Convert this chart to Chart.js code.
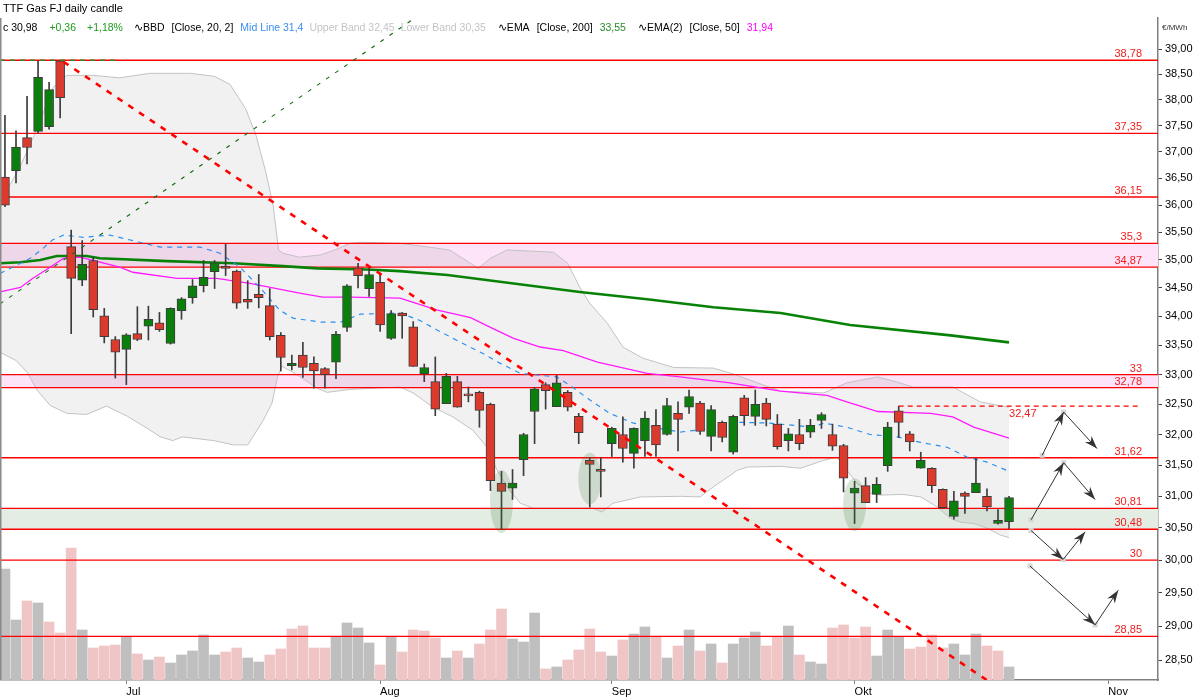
<!DOCTYPE html>
<html>
<head>
<meta charset="utf-8">
<script src="https://cdn.jsdelivr.net/npm/chart.js@4.4.0/dist/chart.umd.min.js"></script>
<style>
  html, body { margin: 0; padding: 0; background: #fff; }
  #wrap { width: 1200px; height: 700px; position: relative; }
</style>
</head>
<body>
<div id="wrap"><canvas id="ttf"></canvas></div>
<script>
// daily candles, 16 Jun - 21 Oct (index = trading day)
const opens = [36.52, 36.64, 37.27, 37.39, 37.48, 38.77, 35.24, 34.64, 34.99, 34.01,
  33.60, 33.43, 33.70, 33.83, 33.89, 33.53, 34.10, 34.33, 34.54, 34.79,
  34.88, 34.80, 34.30, 34.39, 34.19, 33.67, 33.15, 33.33, 33.19, 33.10,
  33.21, 33.81, 34.86, 34.49, 34.60, 33.62, 34.06, 33.82, 33.01, 32.88,
  32.51, 32.88, 32.65, 32.70, 32.50, 31.21, 31.13, 31.59, 32.38, 32.83,
  32.46, 32.70, 32.30, 31.58, 31.41, 31.85, 32.00, 31.69, 31.90, 32.15,
  32.00, 32.35, 32.45, 32.52, 31.97, 32.20, 31.71, 32.61, 32.30, 32.52,
  32.17, 31.90, 32.00, 32.04, 32.23, 32.00, 31.82, 31.05, 31.17, 31.03,
  31.49, 32.39, 32.01, 31.45, 31.45, 31.11, 30.68, 31.05, 31.06, 31.00,
  30.57, 30.60];
const highs = [37.70, 37.40, 38.07, 38.77, 38.34, 38.78, 35.54, 35.35, 35.05, 34.14,
  33.65, 33.70, 34.17, 34.18, 34.07, 34.15, 34.33, 34.65, 34.99, 34.99,
  35.29, 34.82, 34.63, 34.74, 34.49, 33.72, 33.33, 33.55, 33.30, 33.12,
  33.74, 34.56, 34.94, 34.85, 34.74, 34.10, 34.07, 33.91, 33.18, 33.30,
  33.02, 32.97, 32.79, 32.72, 32.52, 31.40, 31.43, 32.02, 32.78, 32.86,
  32.99, 32.73, 32.35, 31.62, 31.62, 32.12, 32.29, 32.11, 32.38, 32.41,
  32.60, 32.54, 32.74, 32.55, 32.48, 32.22, 32.32, 32.65, 32.74, 32.60,
  32.33, 32.10, 32.25, 32.25, 32.36, 32.17, 31.84, 31.24, 31.30, 31.30,
  32.20, 32.47, 32.05, 31.71, 31.46, 31.12, 31.08, 31.07, 31.61, 31.12,
  30.79, 31.00];
const lows = [35.97, 36.41, 36.77, 37.35, 37.43, 37.65, 33.70, 34.54, 33.99, 33.54,
  32.94, 32.83, 33.58, 33.59, 33.74, 33.52, 33.95, 34.23, 34.43, 34.49,
  34.72, 34.14, 34.14, 34.15, 33.59, 33.06, 33.08, 32.95, 32.77, 32.77,
  32.93, 33.74, 34.50, 34.35, 33.74, 33.60, 33.62, 33.14, 32.88, 32.31,
  32.51, 32.45, 32.54, 32.12, 31.09, 30.48, 30.95, 31.33, 31.85, 32.42,
  32.46, 32.39, 31.85, 30.83, 30.99, 31.64, 31.55, 31.45, 31.64, 31.64,
  31.99, 31.73, 32.35, 32.00, 31.73, 31.88, 31.68, 32.15, 32.15, 32.14,
  31.76, 31.73, 31.75, 31.95, 32.10, 31.74, 31.07, 30.57, 30.90, 30.90,
  31.40, 31.95, 31.73, 31.45, 31.06, 30.81, 30.64, 30.73, 31.06, 30.77,
  30.56, 30.49];
const closes = [36.00, 37.09, 37.08, 38.44, 38.20, 38.04, 34.67, 34.92, 34.12, 33.65,
  33.38, 33.68, 33.60, 33.95, 33.77, 34.14, 34.31, 34.54, 34.69, 34.95,
  34.85, 34.23, 34.25, 34.33, 33.65, 33.29, 33.19, 33.12, 33.06, 33.00,
  33.69, 34.54, 34.72, 34.74, 33.85, 34.05, 34.01, 33.14, 33.12, 32.42,
  32.97, 32.45, 32.64, 32.40, 31.25, 31.08, 31.21, 32.00, 32.76, 32.73,
  32.86, 32.45, 32.03, 31.51, 31.40, 32.10, 31.77, 32.10, 32.27, 31.83,
  32.48, 32.25, 32.63, 32.05, 32.41, 31.95, 32.30, 32.31, 32.50, 32.25,
  31.80, 32.01, 31.85, 32.15, 32.33, 31.81, 31.29, 31.13, 30.90, 31.19,
  32.12, 32.20, 31.88, 31.58, 31.17, 30.82, 30.93, 31.00, 31.21, 30.83,
  30.62, 30.98];
const volumes = [111, 60, 79, 77, 58, 47, 132, 50, 32, 34,
  35, 43, 26, 20, 23, 17, 25, 29, 45, 25,
  28, 32, 22, 18, 25, 31, 51, 54, 32, 32,
  43, 57, 52, 37, 15, 43, 28, 50, 49, 42,
  22, 29, 22, 36, 50, 71, 41, 38, 67, 11,
  13, 20, 30, 51, 28, 24, 40, 46, 53, 43,
  22, 34, 50, 29, 36, 17, 36, 42, 48, 34,
  43, 54, 25, 18, 16, 52, 55, 42, 53, 24,
  50, 43, 31, 33, 45, 32, 36, 25, 46, 34,
  29, 13];

const monthTicks = [11, 34, 55, 77, 100];
const monthNames = ['Jul', 'Aug', 'Sep', 'Okt', 'Nov'];
const priceTicks = [28.5, 29, 29.5, 30, 30.5, 31, 31.5, 32, 32.5, 33, 33.5,
  34, 34.5, 35, 35.5, 36, 36.5, 37, 37.5, 38, 38.5, 39];

// indicators: [index, price]
const bbUpper = [[-0.45, 36.10], [0.55, 36.41], [1.36, 36.71], [2.54, 37.26], [3.45, 37.74],
  [4.35, 38.24], [5.6, 38.48], [8, 38.48], [10.4, 38.43], [13.1, 38.52], [16.8, 38.52],
  [19, 38.46], [20.4, 38.30], [21.8, 37.83], [22.7, 37.35], [23.6, 36.65], [24.3, 36.00],
  [24.8, 35.18], [25.2, 35.12], [26.7, 35.05], [28.6, 35.09], [29.9, 35.18], [31.3, 35.30],
  [32.2, 35.32], [35.8, 35.30], [38.5, 35.23], [40.3, 35.18], [42.9, 34.85], [44, 35.03],
  [45.5, 35.18], [49.7, 35.14], [51, 34.94], [52.1, 34.51], [53, 34.23], [54.6, 33.88],
  [56, 33.47], [57.8, 33.28], [60.6, 33.12], [64.2, 33.11], [66, 33.01], [68.2, 32.86],
  [70.3, 32.72], [74.2, 32.69], [76.3, 32.86], [79.1, 32.96], [80.9, 32.87], [82.3, 32.79],
  [85.9, 32.79], [88.4, 32.54], [91, 32.45]];
const bbLower = [[-0.45, 33.38], [1, 33.24], [2, 33.04], [2.9, 32.74], [4.1, 32.48],
  [5.6, 32.35], [7.4, 32.33], [9.2, 32.47], [11.1, 32.30], [12.9, 32.10], [14.1, 31.96],
  [15.2, 31.90], [16.1, 31.96], [18.9, 31.90], [20.7, 31.83], [22, 31.83], [23.4, 32.23],
  [24.2, 32.52], [24.7, 32.96], [25.1, 33.14], [26.1, 33.04], [28.3, 32.77], [29.2, 32.70],
  [31.3, 32.75], [35.8, 32.79], [37, 32.69], [38.8, 32.45], [40.6, 32.29], [42.4, 32.07],
  [43.7, 31.79], [44.6, 31.42], [45.5, 31.15], [46.7, 30.89], [47.9, 30.81], [50.6, 30.81],
  [53.3, 30.81], [54.1, 30.75], [55.1, 30.89], [57.6, 30.99], [61.2, 31.00], [63, 30.99],
  [64.2, 31.15], [66.4, 31.42], [67.3, 31.47], [70.3, 31.48], [72.1, 31.45], [74.2, 31.58],
  [75.4, 31.63], [76.3, 31.42], [77.2, 31.21], [78.4, 31.05], [79.3, 31.02], [81.4, 31.03],
  [83, 30.99], [84.5, 30.83], [85.7, 30.65], [86.6, 30.59], [87.8, 30.57], [89, 30.50],
  [90.2, 30.39], [91, 30.35]];
const bbMid = [[-0.45, 34.76], [0.7, 34.87], [2.3, 35.03], [3.4, 35.20], [4.3, 35.36],
  [5.3, 35.45], [7.1, 35.41], [9.5, 35.45], [12.2, 35.32], [14.1, 35.23], [17.7, 35.23],
  [19.5, 35.12], [21.3, 34.87], [23.1, 34.51], [24.9, 34.11], [26.1, 33.97], [28.6, 33.90],
  [30.4, 33.90], [32.2, 34.04], [35.8, 34.06], [37.6, 33.93], [39.2, 33.76], [41.3, 33.55],
  [43.1, 33.38], [44.9, 33.19], [46.7, 33.02], [50, 32.96], [51.2, 32.82], [52.8, 32.60],
  [54.8, 32.35], [56.9, 32.19], [58.7, 32.12], [61.2, 32.04], [64.2, 32.10], [66.6, 32.20],
  [69.1, 32.19], [73.3, 32.12], [74.2, 32.19], [76.3, 32.12], [78.4, 32.00], [80.9, 31.96],
  [83, 31.87], [85.4, 31.79], [87.2, 31.63], [89, 31.55], [91, 31.40]];
const ema50 = [[-0.45, 34.43], [1.4, 34.51], [2.5, 34.67], [4.1, 34.87], [5.3, 35.03],
  [6.8, 35.05], [8.6, 34.96], [10.4, 34.87], [11.6, 34.78], [15.6, 34.67], [19.2, 34.67],
  [22.2, 34.58], [26.7, 34.41], [28.8, 34.34], [31.3, 34.34], [35.8, 34.32], [39.2, 34.11],
  [42.2, 33.98], [44, 33.81], [46.1, 33.62], [48.5, 33.47], [50.6, 33.41], [53.7, 33.21],
  [58.2, 33.02], [61.2, 32.96], [65.7, 32.86], [70.3, 32.72], [74.5, 32.65], [76.3, 32.54],
  [79.1, 32.38], [83.9, 32.35], [85.9, 32.29], [87.8, 32.12], [91, 31.94]];
const ema200 = [[-0.45, 34.94], [1.4, 34.96], [3.2, 35.00], [4.7, 35.07], [7.4, 35.07],
  [8.6, 35.03], [14.7, 34.98], [20.7, 34.94], [25.2, 34.89], [28.3, 34.85], [32.8, 34.83],
  [35.8, 34.80], [40.1, 34.73], [46.1, 34.58], [52.1, 34.43], [58.2, 34.30], [64.2, 34.16],
  [70.3, 34.06], [76.6, 33.85], [85.7, 33.67], [91, 33.55]];

// drawn levels and tools
const levels = [38.78, 37.35, 36.15, 35.3, 34.87, 33, 32.78, 31.62, 30.81, 30.48, 30, 28.85];
const pinkZones = [[34.87, 35.3], [32.78, 33]];
const greenZones = [[30.48, 30.81]];
const downTrend = [[5.3, 38.75], [90, 28.10]];
const upTrend = [[-0.45, 34.22], [38.5, 39.84]];
const topMark = [[-0.45, 38.78], [10, 38.78]];
const highMark = [[81, 32.47], [102.9, 32.47]];
const touches = [[45, 31.42, 30.42], [53, 31.70, 30.87], [77, 31.29, 30.45]];
const scenarios = [
  [[94.0, 31.66], [95.95, 32.37], [98.97, 31.77]],
  [[93.0, 30.63], [95.95, 31.54], [98.8, 30.95]],
  [[93.0, 30.46], [95.9, 30.01], [97.9, 30.44]],
  [[92.9, 29.91], [98.8, 29.02], [100.9, 29.54]]
];

const X_MIN = -0.45, X_MAX = 104.5;
const fmt = v => String(v).replace('.', ',');
const fmt2 = v => v.toFixed(2).replace('.', ',');
const pts = arr => arr.map(p => ({ x: p[0], y: p[1] }));

Chart.defaults.font.family = "'Liberation Sans', Arial, sans-serif";
Chart.defaults.font.size = 11;
Chart.defaults.color = '#000';

const idx = closes.map((c, i) => i);
const bodyColors = closes.map((c, i) => c >= opens[i] ? '#0b7f0b' : '#dc3a2c');
const volColors = closes.map((c, i) => i > 0 && c < closes[i - 1] ? '#f0c5c5' : '#bfbfbf');

function line(data, color, width, extra) {
  return Object.assign({
    type: 'line', data: pts(data), borderColor: color, borderWidth: width,
    pointRadius: 0, fill: false, tension: 0, yAxisID: 'y'
  }, extra || {});
}

const datasets = [
  {
    type: 'bar', data: idx.map(i => ({ x: i, y: volumes[i] })), yAxisID: 'yv',
    backgroundColor: volColors, barThickness: 10, grouped: false, order: 100
  },
  line(bbUpper, '#c2c2c2', 1, { fill: '+1', backgroundColor: 'rgba(0,0,0,0.055)', order: 90 }),
  line(bbLower, '#c2c2c2', 1, { order: 89 }),
  ...levels.map(v => line([[X_MIN, v], [X_MAX, v]], '#ff0000', 1.3, { order: 80 })),
  line(ema200, '#078207', 2.6, { order: 70 }),
  line(ema50, '#ff1aff', 1.3, { order: 69 }),
  line(bbMid, '#2990f0', 1.2, { borderDash: [5, 5], order: 68 }),
  {
    type: 'bar', data: idx.map(i => ({ x: i, y: [lows[i], highs[i]] })),
    backgroundColor: '#3c3c3c', barThickness: 1, grouped: false, order: 50
  },
  {
    type: 'bar', data: idx.map(i => ({ x: i, y: [opens[i], closes[i]] })),
    backgroundColor: bodyColors, borderColor: '#3c3c3c', borderWidth: 1, borderSkipped: false,
    barThickness: 9, minBarLength: 2, grouped: false, order: 49
  },
  line(topMark, '#2a8a2a', 1.6, { borderDash: [5, 5], order: 30 }),
  line(highMark, '#ff0000', 1.2, { borderDash: [5, 4], order: 30 }),
  line(upTrend, '#0b6a0b', 1.1, { borderDash: [4, 7], order: 20 }),
  line(downTrend, '#ff0000', 2.6, { borderDash: [6, 7], order: 19 })
];

function arrowHead(ctx, from, to) {
  const a = Math.atan2(to[1] - from[1], to[0] - from[0]);
  const L = 13, W = 4.5, N = 9;
  ctx.save();
  ctx.translate(to[0], to[1]);
  ctx.rotate(a);
  ctx.beginPath();
  ctx.moveTo(0, 0);
  ctx.lineTo(-L, -W);
  ctx.lineTo(-N, 0);
  ctx.lineTo(-L, W);
  ctx.closePath();
  ctx.fillStyle = '#333';
  ctx.fill();
  ctx.restore();
}

const overlay = {
  id: 'overlay',
  beforeDatasetsDraw(chart) {
    const { ctx, chartArea: a, scales: { y } } = chart;
    ctx.save();
    const band = (z, color) => {
      const t = y.getPixelForValue(z[1]), b = y.getPixelForValue(z[0]);
      ctx.fillStyle = color;
      ctx.fillRect(a.left, t, a.right - a.left, b - t);
    };
    pinkZones.forEach(z => band(z, '#fde4f8'));
    greenZones.forEach(z => band(z, '#e3ede3'));
    ctx.restore();
  },
  afterDatasetsDraw(chart) {
    const { ctx, chartArea: a, scales: { x, y } } = chart;
    ctx.save();
    ctx.beginPath();
    ctx.rect(a.left, a.top, a.right - a.left, a.bottom - a.top);
    ctx.clip();
    ctx.fillStyle = 'rgba(60,120,60,0.2)';
    touches.forEach(([i, hi, lo]) => {
      const cx = x.getPixelForValue(i), t = y.getPixelForValue(hi), b = y.getPixelForValue(lo);
      ctx.beginPath();
      ctx.ellipse(cx, (t + b) / 2, 11.5, (b - t) / 2, 0, 0, Math.PI * 2);
      ctx.fill();
    });
    scenarios.forEach(path => {
      const p = path.map(([i, v]) => [x.getPixelForValue(i), y.getPixelForValue(v)]);
      ctx.fillStyle = '#d6d6d6';
      [p[0], p[1]].forEach(q => ctx.fillRect(q[0] - 2.5, q[1] - 2.5, 5, 5));
      ctx.strokeStyle = '#333';
      ctx.lineWidth = 1;
      ctx.beginPath();
      ctx.moveTo(p[0][0], p[0][1]);
      ctx.lineTo(p[1][0], p[1][1]);
      ctx.lineTo(p[2][0], p[2][1]);
      ctx.stroke();
      arrowHead(ctx, p[0], p[1]);
      arrowHead(ctx, p[1], p[2]);
    });
    ctx.restore();
  },
  afterDraw(chart) {
    const { ctx, chartArea: a, scales: { x, y } } = chart;
    ctx.save();
    // left frame
    ctx.strokeStyle = '#8a8a8a';
    ctx.lineWidth = 1.5;
    ctx.beginPath();
    ctx.moveTo(0.75, a.top);
    ctx.lineTo(0.75, a.bottom);
    ctx.stroke();

    ctx.font = "11px 'Liberation Sans', Arial, sans-serif";
    ctx.fillStyle = '#f01c1c';
    ctx.textAlign = 'right';
    ctx.textBaseline = 'alphabetic';
    levels.forEach(v => ctx.fillText(fmt(v), 1142, y.getPixelForValue(v) - 3));
    ctx.textAlign = 'left';
    ctx.textBaseline = 'top';
    ctx.fillText(fmt(highMark[0][1]), x.getPixelForValue(91), y.getPixelForValue(highMark[0][1]) + 2);

    // header
    ctx.textBaseline = 'middle';
    ctx.fillStyle = '#000';
    ctx.fillText('TTF Gas FJ daily candle', 3, 9);
    ctx.font = "10.5px 'Liberation Sans', Arial, sans-serif";
    const last = closes[closes.length - 1], prev = closes[closes.length - 2];
    const chg = last - prev;
    const sign = chg >= 0 ? '+' : '';
    // [text, colour, gap after]
    const parts = [
      ['c ' + fmt2(last), '#000', 12],
      [sign + fmt2(chg), '#1c9c1c', 11],
      [sign + fmt2(chg / prev * 100) + '%', '#1c9c1c', 11],
      ['\u223FBBD', '#000', 7],
      ['[Close, 20, 2]', '#000', 7],
      ['Mid Line ' + fmt(bbMid[bbMid.length - 1][1]), '#3b8ef0', 6],
      ['Upper Band ' + fmt(bbUpper[bbUpper.length - 1][1]), '#c4c4c4', 6],
      ['Lower Band ' + fmt(bbLower[bbLower.length - 1][1]), '#c4c4c4', 12],
      ['\u223FEMA', '#000', 7],
      ['[Close, 200]', '#000', 7],
      [fmt(ema200[ema200.length - 1][1]), '#2b8a2b', 12],
      ['\u223FEMA(2)', '#000', 7],
      ['[Close, 50]', '#000', 7],
      [fmt(ema50[ema50.length - 1][1]), '#ff00ff', 0]
    ];
    let px = 3;
    parts.forEach(([t, c, gap]) => {
      ctx.fillStyle = c;
      ctx.fillText(t, px, 28);
      px += ctx.measureText(t).width + gap;
    });

    ctx.font = "8px 'Liberation Sans', Arial, sans-serif";
    ctx.fillStyle = '#333';
    ctx.fillText('\u20AC/MWh', 1162, 28);
    ctx.restore();
  }
};

new Chart(document.getElementById('ttf'), {
  type: 'bar',
  data: { datasets },
  options: {
    responsive: true,
    maintainAspectRatio: false,
    animation: false,
    layout: { padding: { top: 18, left: 0, right: 0, bottom: 0 } },
    plugins: { legend: { display: false }, tooltip: { enabled: false } },
    scales: {
      x: {
        type: 'linear', min: X_MIN, max: X_MAX, offset: false,
        afterBuildTicks: s => { s.ticks = monthTicks.map(v => ({ value: v })); },
        afterFit: s => { s.height = 20; },
        ticks: {
          align: 'start', padding: 1, autoSkip: false, maxRotation: 0,
          callback: v => monthNames[monthTicks.indexOf(v)] || ''
        },
        grid: { offset: false, drawOnChartArea: false, tickLength: 4, color: '#808080' },
        border: { color: '#808080', width: 1.5 }
      },
      y: {
        type: 'logarithmic', position: 'right', min: 28.21, max: 39.63,
        afterBuildTicks: s => { s.ticks = priceTicks.map(v => ({ value: v })); },
        afterFit: s => { s.width = 42; },
        ticks: { padding: 3, autoSkip: false, callback: v => fmt2(v) },
        grid: { drawOnChartArea: false, tickLength: 4, color: '#404040' },
        border: { color: '#808080', width: 1.5 }
      },
      yv: { type: 'linear', display: false, min: 0, max: 662 }
    }
  },
  plugins: [overlay]
});
</script>
</body>
</html>
